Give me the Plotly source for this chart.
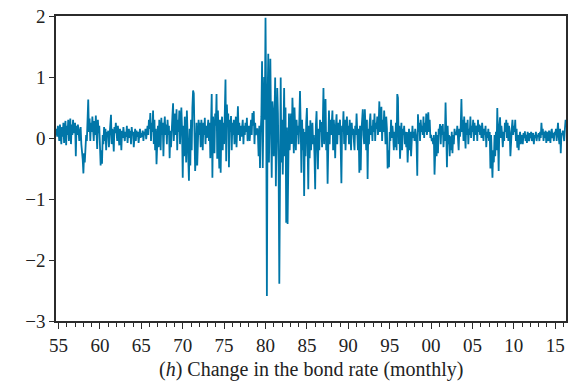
import plotly.graph_objects as go

# Monthly change in the bond rate, starting September 1954
start_year = 1954 + 8 / 12

vals_1950s = [
    0.05, 0.15, 0.02, 0.20,
    0.10, -0.05, 0.22, 0.08, -0.10, 0.18, 0.02, 0.25, -0.08, 0.12, 0.28, -0.12,
    0.20, 0.05, 0.30, -0.05, 0.15, 0.32, -0.10, 0.22, 0.05, 0.30, 0.08, 0.18,
    0.25, -0.30, 0.20, 0.05, 0.22, 0.12, -0.05, 0.10, 0.18, -0.10, -0.20, -0.35,
    -0.58, -0.25, -0.40, -0.10, 0.05, -0.05, 0.20, 0.63, 0.10, 0.32, -0.05, 0.25,
    0.10, 0.35, 0.15, -0.05, 0.28, 0.05, 0.37, 0.12, -0.18, 0.30, 0.08, 0.20,
]
vals_1960s = [
    -0.10, -0.45, -0.20, -0.42, 0.05, -0.10, 0.18, -0.05, 0.15, -0.20, 0.10, 0.02,
    0.12, -0.15, 0.05, 0.20, 0.38, -0.10, 0.15, 0.05, -0.22, 0.18, 0.08, 0.25,
    0.10, -0.05, 0.20, 0.02, -0.12, 0.15, 0.05, -0.20, 0.12, 0.00, 0.18, 0.05,
    -0.05, 0.10, 0.02, 0.20, -0.08, 0.08, 0.15, 0.00, 0.12, -0.10, 0.18, 0.05,
    0.10, -0.15, 0.05, 0.15, -0.05, 0.12, 0.02, 0.10, -0.08, 0.05, 0.15, 0.00,
    0.08, 0.02, 0.12, -0.05, 0.10, 0.05, 0.15, -0.02, 0.10, 0.20, 0.05, 0.30,
    0.15, 0.41, -0.05, 0.25, 0.10, 0.45, -0.10, 0.30, -0.20, 0.15, -0.43, 0.05,
    0.20, -0.15, 0.30, 0.10, -0.20, 0.33, 0.05, 0.25, -0.30, 0.15, 0.35, 0.05,
    0.22, -0.10, 0.30, 0.05, 0.20, -0.33, 0.12, -0.15, 0.25, 0.35, 0.57, -0.05,
    0.20, 0.40, 0.05, 0.47, -0.20, 0.30, 0.10, 0.45, -0.10, 0.35, 0.50, 0.15,
]
vals_1970s = [
    -0.65, 0.20, -0.30, 0.35, 0.10, -0.40, 0.45, 0.05, -0.20, -0.70, 0.15, -0.45,
    0.30, -0.20, 0.50, 0.78, 0.73, 0.20, -0.54, -0.30, 0.25, -0.45, 0.10, 0.30,
    0.05, 0.25, -0.15, 0.30, 0.10, -0.20, 0.25, 0.05, 0.33, -0.10, 0.20, 0.00,
    0.15, 0.30, -0.05, 0.25, -0.33, 0.20, 0.72, -0.65, 0.35, 0.10, -0.25, 0.40,
    0.20, 0.72, -0.34, 0.45, 0.10, -0.50, 0.30, -0.57, 0.15, 0.35, -0.20, 0.25,
    -0.10, 0.30, 0.96, -0.38, 0.55, 0.20, 0.40, -0.48, 0.30, 0.10, 0.36, -0.20,
    0.25, 0.05, 0.30, -0.10, 0.20, 0.35, -0.15, 0.10, 0.52, 0.05, 0.25, -0.05,
    0.20, 0.02, 0.15, 0.30, -0.10, 0.20, 0.05, 0.25, 0.10, 0.33, -0.05, 0.15,
    0.20, -0.05, 0.15, 0.30, 0.05, 0.41, 0.20, 0.44, -0.10, 0.25, 0.05, 0.10,
    0.16, 0.05, -0.30, 0.20, -0.49, 0.10, 0.35, 1.26, -0.49, 0.40, 1.00, 0.30,
]
vals_1980s = [
    1.97, 0.50, -2.59, 0.60, 1.38, -0.40, 0.30, 1.30, 0.20, -0.65, 0.60, 0.40,
    -0.30, 0.50, 0.99, -0.79, 0.30, 0.82, 0.40, -0.50, -2.39, 0.50, 0.99, -0.40,
    0.30, -0.60, 0.20, 0.82, -0.30, 0.50, -1.39, 0.17, -1.41, 0.17, 0.40, -0.20,
    0.10, 0.40, -0.10, 0.66, 0.30, -0.25, 0.50, 0.15, -0.20, 0.30, 0.05, 0.20,
    -0.10, 0.30, 0.77, 0.20, -0.57, 0.30, -0.20, 0.15, -0.95, 0.10, -0.30, 0.25,
    0.49, -0.10, -0.84, 0.20, -0.33, 0.29, -0.20, 0.10, 0.25, -0.10, 0.05, -0.30,
    -0.84, 0.20, 0.44, -0.10, -0.51, 0.15, -0.20, 0.30, 0.10, 0.26, -0.15, 0.20,
    0.82, -0.10, 0.30, 0.64, -0.20, 0.10, -0.75, 0.20, 0.45, -0.10, 0.30, 0.05,
    0.25, 0.45, -0.20, 0.30, 0.10, -0.33, 0.20, 0.39, -0.10, 0.25, 0.05, 0.15,
    0.30, -0.15, -0.74, 0.20, 0.10, 0.44, -0.10, 0.30, -0.20, 0.15, 0.35, 0.05,
]
vals_1990s = [
    0.20, -0.10, 0.30, 0.10, -0.20, 0.25, 0.05, 0.15, -0.10, -0.20, 0.20, 0.05,
    0.40, 0.10, -0.20, 0.15, -0.57, 0.20, -0.53, 0.10, 0.30, 0.47, 0.05, -0.10,
    0.47, 0.10, -0.20, 0.30, -0.67, 0.15, -0.10, 0.25, 0.40, 0.05, 0.20, -0.05,
    0.30, 0.10, 0.40, -0.05, 0.25, 0.15, 0.35, 0.05, 0.20, 0.60, 0.10, 0.30,
    0.51, -0.05, 0.30, 0.10, 0.45, 0.20, -0.10, 0.35, 0.15, -0.50, -0.20, -0.48,
    0.10, -0.05, 0.30, 0.00, 0.20, 0.05, -0.20, 0.10, -0.15, 0.25, -0.20, 0.72,
    0.66, -0.10, 0.20, -0.34, 0.10, 0.25, -0.20, 0.15, 0.05, 0.20, -0.10, 0.10,
    -0.15, 0.10, -0.40, 0.05, 0.15, -0.20, 0.10, -0.30, 0.05, 0.20, 0.00, 0.10,
    -0.05, 0.15, 0.05, -0.10, -0.62, 0.39, 0.10, 0.25, -0.05, 0.30, 0.10, 0.20,
    0.05, 0.35, 0.00, 0.25, 0.10, 0.40, 0.05, 0.20, 0.42, 0.10, 0.30, 0.00,
]
vals_2000s = [
    0.05, -0.05, 0.00, -0.10, 0.05, -0.60, -0.20, 0.10, -0.30, 0.05, -0.25, 0.15,
    0.10, 0.23, -0.10, 0.20, 0.05, 0.23, -0.15, 0.10, -0.05, 0.58, 0.10, -0.48,
    0.20, -0.10, 0.05, -0.30, 0.03, -0.20, 0.10, -0.25, 0.05, -0.10, 0.15, 0.05,
    0.10, 0.05, 0.20, -0.05, -0.20, 0.15, 0.02, 0.20, 0.64, 0.10, 0.30, -0.05,
    0.35, 0.10, -0.17, 0.25, 0.05, 0.30, -0.10, 0.15, 0.05, 0.35, 0.00, 0.20,
    0.10, 0.30, -0.05, 0.25, 0.05, 0.15, 0.20, -0.05, 0.30, 0.10, 0.22, 0.05,
    0.20, 0.00, 0.25, 0.10, -0.05, 0.15, 0.05, 0.20, -0.15, 0.10, 0.00, 0.15,
    -0.05, 0.10, -0.50, 0.05, -0.30, -0.65, -0.20, -0.40, 0.05, -0.30, 0.10, -0.20,
    0.49, 0.10, -0.54, 0.20, 0.34, 0.00, 0.20, 0.05, -0.15, 0.10, -0.05, 0.25,
    0.10, 0.30, 0.00, 0.25, -0.05, 0.20, 0.10, -0.30, 0.05, 0.15, 0.30, 0.05,
]
vals_2010s = [
    0.20, 0.10, 0.30, -0.05, 0.15, -0.16, 0.05, -0.20, 0.00, 0.10, -0.10, 0.05,
    0.05, -0.10, 0.08, 0.00, 0.11, -0.05, 0.05, -0.08, 0.10, 0.02, -0.05, 0.08,
    0.00, 0.10, -0.05, 0.05, 0.08, -0.10, 0.05, 0.00, 0.10, -0.05, 0.05, 0.02,
    0.08, -0.05, 0.10, 0.00, 0.25, 0.05, 0.15, -0.05, 0.10, 0.00, 0.12, -0.08,
    0.10, 0.02, -0.05, 0.12, 0.05, -0.08, 0.10, 0.15, 0.00, 0.08, -0.05, 0.10,
    0.05, 0.15, -0.05, 0.10, 0.25, 0.02, -0.10, 0.15, -0.25, 0.08, 0.05, 0.12,
    0.05, -0.05, 0.15, 0.30,
]

x_tick_years = [1955, 1960, 1965, 1970, 1975, 1980, 1985, 1990, 1995, 2000, 2005, 2010, 2015]
x_tick_labels = ["55", "60", "65", "70", "75", "80", "85", "90", "95", "00", "05", "10", "15"]
y_tick_values = [-3, -2, -1, 0, 1, 2]
y_tick_labels = ["\u22123", "\u22122", "\u22121", "0", "1", "2"]

values = vals_1950s + vals_1960s + vals_1970s + vals_1980s + vals_1990s + vals_2000s + vals_2010s
dates = [start_year + i / 12 for i in range(len(values))]

font_family = "Liberation Serif"
axis_color = "#2b2b2b"
text_color = "#222222"

fig = go.Figure()
fig.add_trace(go.Scatter(
    x=dates, y=values, mode="lines",
    line=dict(color="#0076a8", width=1.8),
    showlegend=False, hoverinfo="skip",
))

fig.update_layout(
    width=582, height=383,
    margin=dict(l=56, r=16, t=16, b=62, autoexpand=False),
    paper_bgcolor="white", plot_bgcolor="white",
    font=dict(family=font_family, size=19, color=text_color),
    annotations=[dict(
        text="(<i>h</i>) Change in the bond rate (monthly)",
        xref="paper", yref="paper", x=0.5, y=-0.16,
        xanchor="center", yanchor="middle", showarrow=False,
        font=dict(family=font_family, size=20, color=text_color),
    )],
)
fig.update_xaxes(
    range=[1954.69, 2016.3],
    tickmode="array", tickvals=x_tick_years, ticktext=x_tick_labels,
    ticks="outside", ticklen=6, tickwidth=1, tickcolor=axis_color,
    minor=dict(ticks="outside", dtick=1, tick0=1955, ticklen=4, tickwidth=1, tickcolor=axis_color),
    showline=True, linecolor=axis_color, linewidth=1.5, mirror=True,
    showgrid=False, zeroline=False, automargin=False,
    tickfont=dict(family=font_family, size=19, color=text_color),
)
fig.update_yaxes(
    range=[-3, 2],
    tickmode="array", tickvals=y_tick_values, ticktext=y_tick_labels,
    ticks="outside", ticklen=5, tickwidth=1, tickcolor=axis_color,
    showline=True, linecolor=axis_color, linewidth=1.5, mirror=True,
    showgrid=False, zeroline=False, automargin=False,
    tickfont=dict(family=font_family, size=19, color=text_color),
)

fig.write_html(
    "out.html",
    config={"displayModeBar": False},
    post_script="document.body.style.margin='0';document.body.style.padding='0';",
)
